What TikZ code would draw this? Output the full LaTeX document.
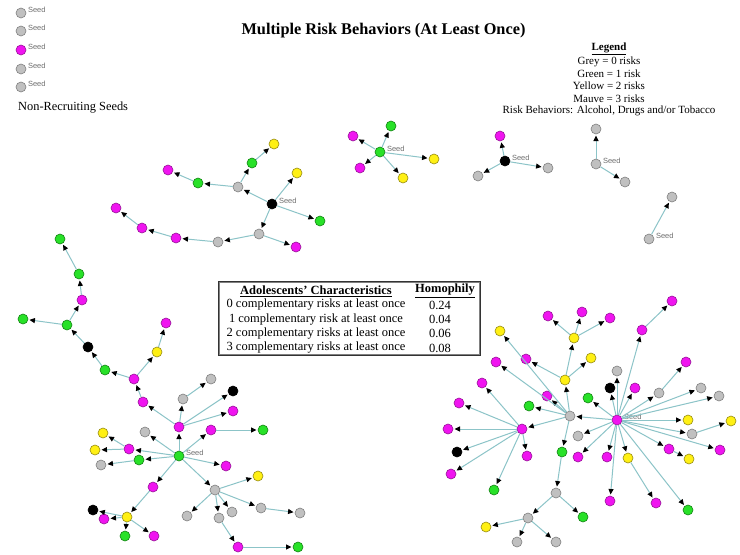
\documentclass[tikz,border=0pt]{standalone}
\usepackage{fontspec}
\setmainfont{Liberation Serif}
\setsansfont{Liberation Sans}
\usetikzlibrary{arrows.meta}

\definecolor{nodegrey}{RGB}{192,192,192}
\definecolor{nodegreyline}{RGB}{128,128,128}
\definecolor{nodegreen}{RGB}{40,225,40}
\definecolor{nodegreenline}{RGB}{20,130,20}
\definecolor{nodeyellow}{RGB}{255,240,20}
\definecolor{nodeyellowline}{RGB}{150,140,20}
\definecolor{nodemauve}{RGB}{240,20,240}
\definecolor{nodemauveline}{RGB}{150,20,150}
\definecolor{linkteal}{RGB}{140,196,200}
\definecolor{seedtext}{RGB}{110,110,110}

\tikzset{
  nd/.style={circle, inner sep=0pt, minimum size=10pt, line width=0.6pt},
  gr/.style={nd, fill=nodegrey, draw=nodegreyline},
  gn/.style={nd, fill=nodegreen, draw=nodegreenline},
  yl/.style={nd, fill=nodeyellow, draw=nodeyellowline},
  mv/.style={nd, fill=nodemauve, draw=nodemauveline},
  bk/.style={nd, fill=black, draw=black},
  link/.style={draw=linkteal, line width=1pt,
    -{Triangle[color=black, length=5.5pt, width=5pt]}, shorten >=1.2pt},
  seedlbl/.style={font=\fontsize{7.5}{8}\sffamily, text=seedtext, anchor=west, inner sep=0.5pt},
  legendtxt/.style={font=\fontsize{11}{12}\selectfont, inner sep=0pt},
  tabletxt/.style={font=\fontsize{12.5}{14}\selectfont, inner sep=0pt}
}

\newcommand{\seedmark}[1]{\node[seedlbl] at ([xshift=1pt,yshift=3pt]#1.east) {Seed};}

\begin{document}
\begin{tikzpicture}[x=1pt,y=-1pt]
\useasboundingbox[fill=white] (0,0) rectangle (740,555);

% ---------- headings ----------
\node[font=\fontsize{16.3}{18}\selectfont\bfseries, inner sep=0pt] (title) at (383.5,31) {Multiple Risk Behaviors (At Least Once)};

\node[legendtxt, font=\fontsize{11}{12}\selectfont\bfseries] (lg0) at (609,49) {\underline{Legend}};
\node[legendtxt] (lg1) at (609,61.5) {Grey = 0 risks};
\node[legendtxt] (lg2) at (609,74) {Green = 1 risk};
\node[legendtxt] (lg3) at (609,86) {Yellow = 2 risks};
\node[legendtxt] (lg4) at (609,98.5) {Mauve = 3 risks};
\node[legendtxt] (lg5) at (609,111) {Risk Behaviors: Alcohol, Drugs and/or Tobacco};

% ---------- seeds that recruited nobody ----------
\node[gr] (n1) at (21,13) {};
\node[gr] (n2) at (21,31) {};
\node[mv] (n3) at (21,50) {};
\node[gr] (n4) at (21,69) {};
\node[gr] (n5) at (21,87) {};
\foreach \s in {n1,n2,n3,n4,n5} {\seedmark{\s}}
\node[font=\fontsize{12.4}{14}\selectfont, anchor=west, inner sep=0pt] (nrs) at (18,108) {Non-Recruiting Seeds};

% ---------- homophily table ----------
\draw[draw=gray, line width=1.4pt] (219.5,282.5) rectangle (479.5,354.5);
\draw[draw=black!80, line width=0.5pt] (218.5,281.5) rectangle (480.5,355.5);
\node[tabletxt, font=\fontsize{12.5}{14}\selectfont\bfseries] (th1) at (316,291) {\underline{Adolescents' Characteristics}};
\node[tabletxt, font=\fontsize{12.5}{14}\selectfont\bfseries] (th2) at (445,291) {\underline{Homophily}};
\node[tabletxt] (r1) at (316,305) {0 complementary risks at least once};
\node[tabletxt] (r2) at (316,319.5) {1 complementary risk at least once};
\node[tabletxt] (r3) at (316,333.5) {2 complementary risks at least once};
\node[tabletxt] (r4) at (316,348) {3 complementary risks at least once};
\node[tabletxt] (v1) at (440,305) {0.24};
\node[tabletxt] (v2) at (440,319.5) {0.04};
\node[tabletxt] (v3) at (440,333.5) {0.06};
\node[tabletxt] (v4) at (440,348) {0.08};

% ---------- network A (black seed, upper left) ----------
\node[bk] (a0) at (272,204) {};
\node[yl] (a1) at (297,173) {};
\node[gn] (a2) at (320,221) {};
\node[gr] (a3) at (238,187) {};
\node[gn] (a4) at (252,163) {};
\node[yl] (a5) at (274,144) {};
\node[gn] (a6) at (198,183) {};
\node[mv] (a7) at (168,170) {};
\node[gr] (a8) at (259,234) {};
\node[mv] (a9) at (296,247) {};
\node[gr] (a10) at (218,242) {};
\node[mv] (a11) at (176,238) {};
\node[mv] (a12) at (142,228) {};
\node[mv] (a13) at (116,208) {};
\seedmark{a0}
\foreach \p/\c in {a0/a1,a0/a2,a0/a3,a0/a8,a3/a4,a4/a5,a3/a6,a6/a7,a8/a9,a8/a10,a10/a11,a11/a12,a12/a13}
  \draw[link] (\p) -- (\c);

% ---------- network B (green seed) ----------
\node[gn] (b0) at (380,152) {};
\node[gn] (b1) at (391,126) {};
\node[mv] (b2) at (353,136) {};
\node[mv] (b3) at (360,168) {};
\node[yl] (b4) at (403,178) {};
\node[yl] (b5) at (434,159) {};
\seedmark{b0}
\foreach \c in {b1,b2,b3,b4,b5} \draw[link] (b0) -- (\c);

% ---------- networks C, D, E (small, upper right) ----------
\node[bk] (c0) at (505,161) {};
\node[mv] (c1) at (500,136) {};
\node[gr] (c2) at (548,168) {};
\node[gr] (c3) at (478,176) {};
\seedmark{c0}
\foreach \c in {c1,c2,c3} \draw[link] (c0) -- (\c);

\node[gr] (d0) at (596,164) {};
\node[gr] (d1) at (596,129) {};
\node[gr] (d2) at (625,182) {};
\seedmark{d0}
\foreach \c in {d1,d2} \draw[link] (d0) -- (\c);

\node[gr] (e0) at (649,239) {};
\node[gr] (e1) at (672,197) {};
\seedmark{e0}
\draw[link] (e0) -- (e1);

% ---------- network F (green seed, left) ----------
\node[gn] (f0) at (179,456) {};
\node[mv] (f1) at (179,427) {};
\node[gr] (f2) at (183,399) {};
\node[gr] (f3) at (211,379) {};
\node[bk] (f4) at (233,391) {};
\node[mv] (f5) at (233,411) {};
\node[mv] (f6) at (143,402) {};
\node[mv] (f7) at (134,379) {};
\node[gn] (f8) at (105,370) {};
\node[bk] (f9) at (88,347) {};
\node[gn] (f10) at (67,325) {};
\node[gn] (f11) at (23,319) {};
\node[mv] (f12) at (82,300) {};
\node[gn] (f13) at (79,274) {};
\node[gn] (f14) at (60,239) {};
\node[yl] (f15) at (157,352) {};
\node[mv] (f16) at (166,323) {};
\node[mv] (f17) at (211,430) {};
\node[gn] (f18) at (263,430) {};
\node[gr] (f19) at (145,432) {};
\node[mv] (f20) at (129,449) {};
\node[yl] (f21) at (103,433) {};
\node[yl] (f22) at (95,450) {};
\node[gn] (f23) at (139,460) {};
\node[gr] (f24) at (101,465) {};
\node[mv] (f25) at (226,466) {};
\node[mv] (f26) at (153,487) {};
\node[yl] (f27) at (127,517) {};
\node[bk] (f28) at (93,510) {};
\node[mv] (f29) at (104,519) {};
\node[gn] (f30) at (125,536) {};
\node[mv] (f31) at (154,536) {};
\node[gr] (f32) at (215,490) {};
\node[yl] (f33) at (258,476) {};
\node[gr] (f34) at (261,508) {};
\node[gr] (f35) at (300,513) {};
\node[gr] (f36) at (187,516) {};
\node[gr] (f37) at (219,518) {};
\node[mv] (f38) at (238,547) {};
\node[gn] (f39) at (298,547) {};
\node[gr] (f40) at (232,512) {};
\seedmark{f0}
\foreach \p/\c in {f0/f1,f1/f2,f2/f3,f1/f4,f1/f5,f1/f6,f6/f7,f7/f8,f8/f9,f9/f10,f10/f11,f10/f12,
    f12/f13,f13/f14,f7/f15,f15/f16,f0/f17,f17/f18,f0/f19,f0/f20,f20/f21,f20/f22,f0/f23,f23/f24,
    f0/f25,f0/f26,f26/f27,f27/f28,f27/f29,f27/f30,f27/f31,f0/f32,f32/f33,f32/f34,f34/f35,f32/f36,
    f32/f37,f37/f38,f38/f39,f32/f40}
  \draw[link] (\p) -- (\c);

% ---------- network G (mauve seed, lower right) ----------
\node[mv] (g0) at (617,420) {};
\node[gr] (g1) at (617,371) {};
\node[bk] (g2) at (610,388) {};
\node[mv] (g3) at (635,388) {};
\node[mv] (g4) at (642,330) {};
\node[mv] (g5) at (672,301) {};
\node[gn] (g6) at (588,398) {};
\node[gr] (g7) at (578,436) {};
\node[gr] (g8) at (659,393) {};
\node[mv] (g9) at (686,362) {};
\node[gr] (g10) at (701,388) {};
\node[gr] (g11) at (719,396) {};
\node[yl] (g12) at (688,420) {};
\node[gr] (g13) at (692,434) {};
\node[yl] (g14) at (731,421) {};
\node[mv] (g15) at (720,450) {};
\node[mv] (g16) at (669,449) {};
\node[yl] (g17) at (689,459) {};
\node[yl] (g18) at (628,458) {};
\node[mv] (g19) at (656,503) {};
\node[mv] (g20) at (607,457) {};
\node[mv] (g21) at (578,457) {};
\node[mv] (g22) at (610,501) {};
\node[gn] (g23) at (688,510) {};
\node[gr] (g24) at (570,416) {};
\node[gn] (g25) at (529,406) {};
\node[mv] (g26) at (547,396) {};
\node[yl] (g27) at (565,380) {};
\node[yl] (g28) at (574,338) {};
\node[mv] (g29) at (548,316) {};
\node[mv] (g30) at (582,312) {};
\node[mv] (g31) at (610,318) {};
\node[yl] (g32) at (591,358) {};
\node[mv] (g33) at (526,359) {};
\node[mv] (g34) at (496,362) {};
\node[yl] (g35) at (500,331) {};
\node[gn] (g36) at (562,452) {};
\node[gr] (g37) at (556,493) {};
\node[gn] (g38) at (583,517) {};
\node[gr] (g39) at (528,518) {};
\node[yl] (g40) at (486,527) {};
\node[gr] (g41) at (517,542) {};
\node[gr] (g42) at (556,542) {};
\node[mv] (g43) at (522,429) {};
\node[mv] (g44) at (459,403) {};
\node[mv] (g45) at (482,383) {};
\node[mv] (g46) at (448,429) {};
\node[bk] (g47) at (457,452) {};
\node[mv] (g48) at (451,474) {};
\node[gn] (g49) at (494,490) {};
\node[mv] (g50) at (527,456) {};
\seedmark{g0}
\foreach \p/\c in {g0/g1,g0/g2,g0/g3,g0/g4,g4/g5,g0/g6,g0/g7,g0/g8,g8/g9,g0/g10,g0/g11,g0/g12,
    g0/g13,g13/g14,g0/g15,g0/g16,g16/g17,g0/g18,g18/g19,g0/g20,g0/g21,g0/g22,g0/g23,g0/g24,
    g24/g25,g24/g26,g24/g27,g27/g28,g28/g29,g28/g30,g28/g31,g27/g32,g27/g33,g24/g34,g24/g35,
    g24/g36,g36/g37,g37/g38,g37/g39,g39/g40,g39/g41,g39/g42,g24/g43,g43/g44,g43/g45,g43/g46,
    g43/g47,g43/g48,g43/g49,g43/g50}
  \draw[link] (\p) -- (\c);
\end{tikzpicture}
\end{document}
